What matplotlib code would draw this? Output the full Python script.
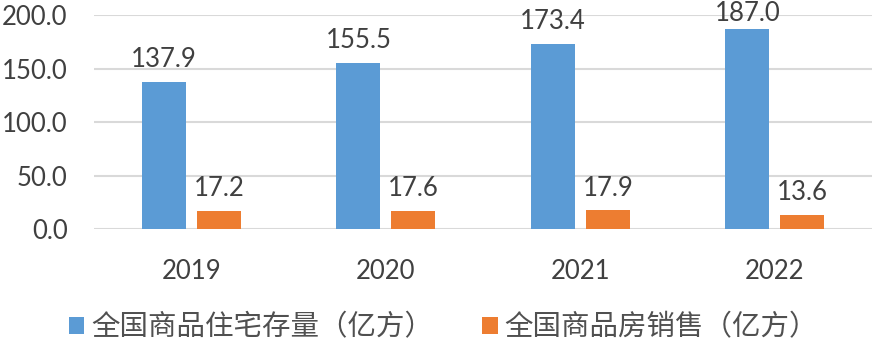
import matplotlib
matplotlib.use("Agg")
import matplotlib.pyplot as plt
import numpy as np

plt.rcParams['font.family'] = ['Lato', 'Noto Sans CJK SC', 'DejaVu Sans']

years = ['2019', '2020', '2021', '2022']
stock = [137.9, 155.5, 173.4, 187.0]
sales = [17.2, 17.6, 17.9, 13.6]
labels = ['全国商品住宅存量（亿方）', '全国商品房销售（亿方）']

blue = '#5B9BD5'
orange = '#ED7D31'
text_c = '#404040'

fig = plt.figure(figsize=(8.78, 3.41), dpi=100)
ax = fig.add_axes([0.107, 0.327, 0.886, 0.628])

x = np.arange(len(years))
w = 0.226
b1 = ax.bar(x - 0.14, stock, w, color=blue, label=labels[0])
b2 = ax.bar(x + 0.143, sales, w, color=orange, label=labels[1])

anns = []
for bars, vals in ((b1, stock), (b2, sales)):
    for r, v in zip(bars, vals):
        a = ax.annotate(f'{v:.1f}', (r.get_x() + r.get_width() / 2, v),
                        xytext=(0, 7), textcoords='offset points',
                        ha='center', va='bottom', fontsize=18.5, color=text_c)
        anns.append(a)

ax.set_xlim(-0.5, 3.5)
ax.set_ylim(0, 200)
ax.set_yticks([0, 50, 100, 150, 200])
ax.set_yticklabels([f'{t:.1f}' for t in [0, 50, 100, 150, 200]])
ax.set_xticks(x)
ax.set_xticklabels(years)
ax.tick_params(axis='both', length=0, labelsize=18.5, colors=text_c)
ax.tick_params(axis='x', pad=21)
ax.tick_params(axis='y', pad=19)
ax.grid(axis='y', color='#D9D9D9', linewidth=1.5)
ax.set_axisbelow(True)
for s in ax.spines.values():
    s.set_visible(False)

leg = fig.legend(handles=[b1, b2], loc='lower center', bbox_to_anchor=(0.505, -0.08),
                 ncol=2, frameon=False, handlelength=0.55, handleheight=0.55,
                 handletextpad=0.25, columnspacing=1.7,
                 prop={'family': ['Noto Sans CJK SC', 'DejaVu Sans'], 'size': 20.5, 'weight': 'light'})
for t in leg.get_texts():
    t.set_color('#505050')

# keep labels inside the figure, like Excel does
fig.canvas.draw()
H = fig.bbox.height
for a in anns:
    bb = a.get_window_extent()
    if bb.y1 > H - 1:
        dy = (bb.y1 - (H - 1)) * 72 / fig.dpi
        a.xyann = (0, 7 - dy)

fig.savefig('out.png', dpi=100)
